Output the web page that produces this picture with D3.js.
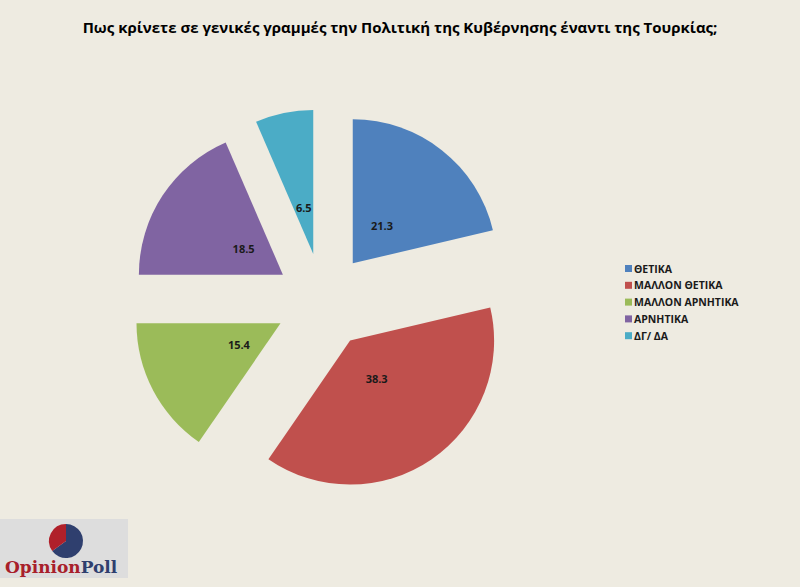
<!DOCTYPE html>
<html>
<head>
<meta charset="utf-8">
<script src="https://cdn.jsdelivr.net/npm/d3@7"></script>
<style>
  body { margin: 0; background: #eeebe1; }
  text { font-family: "Open Sans", "DejaVu Sans", sans-serif; }
  .logo-text { font-family: "DejaVu Serif", "Liberation Serif", serif; }
</style>
</head>
<body>
<svg id="chart"></svg>
<script>
const labels = ["ΘΕΤΙΚΑ", "ΜΑΛΛΟΝ ΘΕΤΙΚΑ", "ΜΑΛΛΟΝ ΑΡΝΗΤΙΚΑ", "ΑΡΝΗΤΙΚΑ", "ΔΓ/ ΔΑ"];
const values = [21.3, 38.3, 15.4, 18.5, 6.5];
const colors = ["#4f81bd", "#c0504d", "#9bbb59", "#8064a2", "#4bacc6"];

const width = 800, height = 587;
const svg = d3.select("#chart").attr("width", width).attr("height", height);

svg.append("rect").attr("width", width).attr("height", height).attr("fill", "#eeebe1");

svg.append("text")
  .attr("x", 400).attr("y", 33)
  .attr("text-anchor", "middle")
  .attr("font-size", 15).attr("font-weight", "bold")
  .text("Πως κρίνετε σε γενικές γραμμές την Πολιτική της Κυβέρνησης έναντι της Τουρκίας;");

const cx = 323, cy = 301, r = 144, explode = 48;
const pie = d3.pie().sort(null);
const arcs = pie(values);
const arc = d3.arc().innerRadius(0).outerRadius(r);
const labelArc = d3.arc().innerRadius(0).outerRadius(94);

const g = svg.append("g").attr("transform", `translate(${cx},${cy})`);

const slice = g.selectAll("g.slice")
  .data(arcs)
  .join("g")
  .attr("class", "slice")
  .attr("transform", d => {
    const a = (d.startAngle + d.endAngle) / 2;
    return `translate(${explode * Math.sin(a)},${-explode * Math.cos(a)})`;
  });

slice.append("path")
  .attr("d", arc)
  .attr("fill", (d, i) => colors[i]);

slice.append("text")
  .attr("transform", d => `translate(${labelArc.centroid(d)})`)
  .attr("text-anchor", "middle")
  .attr("dy", "0.35em")
  .attr("font-size", 11).attr("font-weight", "bold")
  .attr("fill", "#1a1a1a")
  .text(d => d.data.toFixed(1));

// legend
const legend = svg.append("g").attr("transform", "translate(625,265)");
const item = legend.selectAll("g")
  .data(labels)
  .join("g")
  .attr("transform", (d, i) => `translate(0,${i * 16.8})`);
item.append("rect").attr("width", 7).attr("height", 7).attr("fill", (d, i) => colors[i]);
item.append("text")
  .attr("x", 9).attr("y", 7.5)
  .attr("font-size", 10.5).attr("font-weight", "bold")
  .attr("fill", "#1a1a1a")
  .text(d => d);

// logo
const logo = svg.append("g");
logo.append("rect").attr("x", 0).attr("y", 519).attr("width", 128).attr("height", 59).attr("fill", "#dddddd");
const logoPie = d3.pie().sort(null)([65, 35]);
const logoArc = d3.arc().innerRadius(0).outerRadius(17);
logo.append("g").attr("transform", "translate(66,541)")
  .selectAll("path").data(logoPie).join("path")
  .attr("d", logoArc)
  .attr("fill", (d, i) => i === 0 ? "#2f3f6e" : "#b0202a");
const lt = logo.append("text").attr("class", "logo-text").attr("x", 5).attr("y", 573)
  .attr("font-size", 17).attr("font-weight", "bold");
lt.append("tspan").attr("fill", "#a8202a").text("Opinion");
lt.append("tspan").attr("fill", "#2f3f6e").text("Poll");
</script>
</body>
</html>
